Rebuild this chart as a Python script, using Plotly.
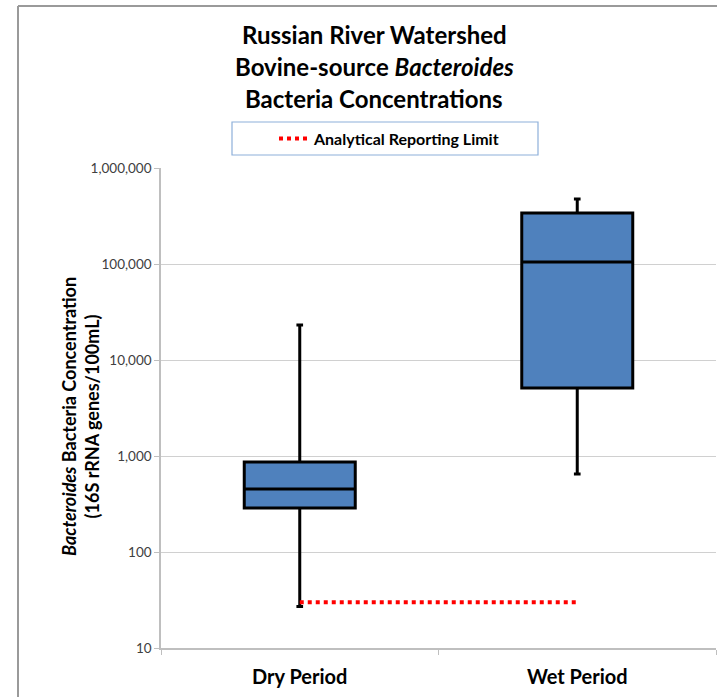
import plotly.graph_objects as go

# Summary statistics per period (16S rRNA genes / 100 mL)
periods = ["Dry Period", "Wet Period"]
whisker_low = [27, 650]
q1_vals = [287, 5100]
median_vals = [453, 105000]
q3_vals = [866, 339000]
whisker_high = [23200, 475000]

# Analytical reporting limit
arl_value = 30
arl_label = "Analytical Reporting Limit"

# Axis ticks
y_tickvals = [10, 100, 1000, 10000, 100000, 1000000]
y_ticktext = ["10", "100", "1,000", "10,000", "100,000", "1,000,000"]

title_lines = [
    "Russian River Watershed",
    "Bovine-source <i>Bacteroides</i>",
    "Bacteria Concentrations",
]

FONT = "Lato"
W, H = 717, 697
L, R, T, B = 161, 1, 168, 49
PW, PH = W - L - R, H - T - B


def px_x(x):
    return (x - L) / PW


def px_y(y):
    return (H - B - y) / PH


fig = go.Figure()

fig.add_trace(go.Box(
    x=periods,
    q1=q1_vals,
    median=median_vals,
    q3=q3_vals,
    lowerfence=whisker_low,
    upperfence=whisker_high,
    boxpoints=False,
    width=0.4,
    whiskerwidth=0.06,
    fillcolor="#4f81bd",
    line=dict(color="#000000", width=3),
    showlegend=False,
    hoverinfo="skip",
))

fig.add_trace(go.Scatter(
    x=periods,
    y=[arl_value] * len(periods),
    mode="lines",
    line=dict(color="#ff0000", width=4, dash="4px,4px"),
    name=arl_label,
    showlegend=True,
))

shapes = [
    # legend frame
    dict(type="rect", xref="paper", yref="paper",
         x0=px_x(232), x1=px_x(538), y0=px_y(155), y1=px_y(122),
         line=dict(color="#8eb0da", width=1.2), fillcolor="rgba(0,0,0,0)"),
    # chart frame (left and top)
    dict(type="line", xref="paper", yref="paper",
         x0=px_x(18), x1=px_x(18), y0=px_y(697), y1=px_y(6),
         line=dict(color="#9a9a9a", width=2)),
    dict(type="line", xref="paper", yref="paper",
         x0=px_x(18), x1=px_x(717), y0=px_y(6), y1=px_y(6),
         line=dict(color="#9a9a9a", width=2)),
]

annotations = []
for text, ypx in zip(title_lines, [34, 67, 99]):
    annotations.append(dict(
        text=text, xref="paper", yref="paper",
        x=px_x(374), y=px_y(ypx), xanchor="center", yanchor="middle",
        showarrow=False,
        font=dict(family=FONT, size=24, color="#000000", weight="bold"),
    ))

annotations.append(dict(
    text="<i>Bacteroides</i> Bacteria Concentration<br>(16S rRNA genes/100mL)",
    xref="paper", yref="paper", x=px_x(80), y=px_y(417),
    xanchor="center", yanchor="middle", textangle=-90, showarrow=False,
    font=dict(family=FONT, size=18, color="#000000", weight="bold"),
))

fig.update_layout(
    width=W, height=H,
    margin=dict(l=L, r=R, t=T, b=B),
    paper_bgcolor="white",
    plot_bgcolor="white",
    font=dict(family=FONT, color="#404040"),
    showlegend=True,
    legend=dict(
        x=px_x(274), y=px_y(138.5), xanchor="left", yanchor="middle",
        bgcolor="rgba(0,0,0,0)", borderwidth=0,
        font=dict(family=FONT, size=16, color="#000000", weight="bold"),
    ),
    shapes=shapes,
    annotations=annotations,
)

fig.update_xaxes(
    type="category",
    range=[-0.5, 1.5],
    showgrid=False,
    showline=True, linecolor="#bfbfbf", linewidth=1.5,
    ticks="outside", tickson="boundaries", ticklen=5, tickcolor="#bfbfbf",
    tickfont=dict(family=FONT, size=20, color="#000000", weight="bold"),
    ticklabelstandoff=10,
)

fig.update_yaxes(
    type="log",
    range=[1, 6],
    tickvals=y_tickvals,
    ticktext=y_ticktext,
    showgrid=True, gridcolor="#d0d0d0", gridwidth=1.2,
    showline=True, linecolor="#bfbfbf", linewidth=1.5,
    ticks="outside", ticklen=5, tickcolor="#bfbfbf",
    tickfont=dict(family=FONT, size=13.5, color="#404040"),
    zeroline=False,
)

fig.write_html("out.html")
